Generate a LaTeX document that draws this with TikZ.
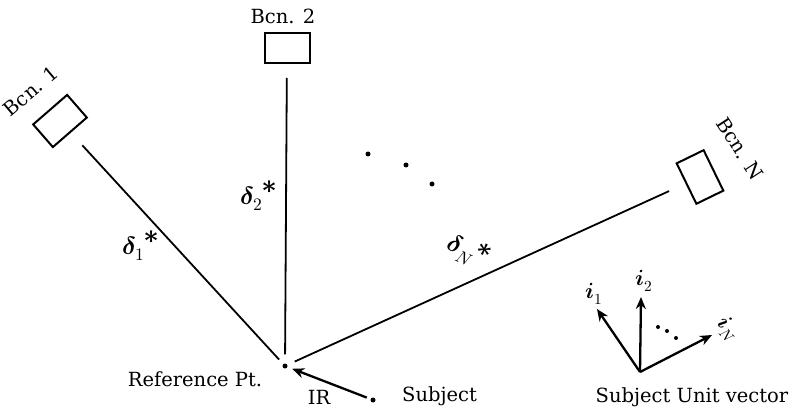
\documentclass[tikz,border=0pt]{standalone}
\usepackage{fontspec}
\usepackage{unicode-math}
\setmainfont{DejaVu Serif}
\usetikzlibrary{arrows.meta}
\begin{document}
\begin{tikzpicture}[x=1pt,y=-1pt,
  beacon/.style={draw, line width=2pt, minimum width=45pt, minimum height=30pt, inner sep=0pt},
  lbl/.style={font=\fontsize{19.5}{22}\selectfont, inner sep=0pt},
  mlbl/.style={font=\fontsize{25}{28}\selectfont, inner sep=0pt},
  ilbl/.style={font=\fontsize{22}{24}\selectfont, inner sep=0pt},
  ray/.style={line width=1.8pt},
  vec/.style={line width=2.3pt, -{Stealth[length=12pt,width=10pt]}},
  pt/.style={circle, fill, inner sep=0pt, minimum size=5pt},
  sdot/.style={circle, fill, inner sep=0pt, minimum size=4pt}]
\useasboundingbox (0,0) rectangle (791,411);
% reference point and beacons
\node[pt] (ref) at (285,366) {};
\node[beacon, rotate=41] (b1) at (60,121) {};
\node[beacon] (b2) at (287,48) {};
\node[beacon, rotate=-64] (bn) at (700,177) {};
\node[lbl, rotate=40] (l1) at (31,91) {Bcn. 1};
\node[lbl] (l2) at (283,16) {Bcn. 2};
\node[lbl, rotate=-57] (ln) at (740,149) {Bcn. N};
% rays
\draw[ray, shorten <=17pt, shorten >=6pt] (b1) -- (ref);
\draw[ray, shorten <=14pt, shorten >=9pt] (b2) -- (ref);
\draw[ray, shorten <=18pt, shorten >=8pt] (bn) -- (ref);
% ray labels
\node[mlbl] (dl1) at (140,246) {$\symbfit{\delta}_1$\raisebox{5pt}{\textbf{*}}};
\node[mlbl] (dl2) at (258,196) {$\symbfit{\delta}_2$\raisebox{5pt}{\textbf{*}}};
\node[mlbl, rotate=-25] (dln) at (468,251) {$\symbfit{\delta}_N$\raisebox{3pt}{\textbf{*}}};
% dots
\node[pt] (d1) at (368,154) {};
\node[pt] (d2) at (406,165) {};
\node[pt] (d3) at (432,184) {};
% subject
\node[pt] (subj) at (373,400) {};
\draw[vec, shorten <=4pt, shorten >=5pt] (subj) -- (ref);
\node[lbl] (ir) at (319,397) {IR};
\node[lbl, anchor=west] (st) at (402,396) {Subject};
\node[lbl] (rp) at (195,379) {Reference Pt.};
% unit vectors
\coordinate (o) at (640,372);
\coordinate (t1) at (597,309);
\coordinate (t2) at (641,297);
\coordinate (tn) at (712,335);
\draw[vec] (o) -- (t1);
\draw[vec] (o) -- (t2);
\draw[vec] (o) -- (tn);
\node[sdot] (e1) at (658,327) {};
\node[sdot] (e2) at (667,331) {};
\node[sdot] (e3) at (676,338) {};
\node[ilbl] (il1) at (594,294) {$\symbfit{i}_1$};
\node[ilbl] (il2) at (644,281) {$\symbfit{i}_2$};
\node[ilbl, rotate=-50] (iln) at (728,329) {$\symbfit{i}_N$};
\node[lbl] (suv) at (692,397) {Subject Unit vector};
\end{tikzpicture}
\end{document}
